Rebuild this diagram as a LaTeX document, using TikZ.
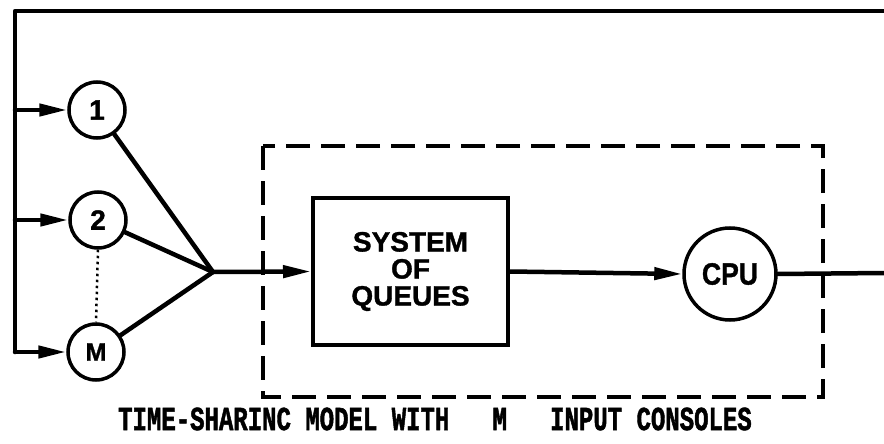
\documentclass[tikz,border=0pt]{standalone}
\usepackage{fontspec}
\usepackage{graphicx}
\setmainfont{Liberation Sans}
\newfontfamily\lblfont{Liberation Sans}[BoldFeatures={FakeBold=1.2}]
\newfontfamily\capfont{Liberation Mono}[BoldFeatures={FakeBold=1.8}]
\usetikzlibrary{arrows.meta}
\tikzset{
  wire/.style={line width=4.5pt, line cap=round, line join=round},
  arr/.style={wire, -{Triangle[length=28pt,width=12pt]}},
  circ/.style={circle, draw, line width=3.5pt, minimum size=56pt, inner sep=0pt,
               font=\lblfont\fontsize{28}{28}\selectfont\bfseries},
  qbox/.style={rectangle, draw, line width=4pt, minimum width=195pt, minimum height=147pt,
               align=center, font=\lblfont\fontsize{28}{27}\selectfont\bfseries},
  dashbox/.style={line width=4pt, dash pattern=on 24pt off 11pt},
  dots/.style={line width=2.5pt, dash pattern=on 2.5pt off 3.5pt},
}
\begin{document}
\begin{tikzpicture}[x=1pt,y=-1pt]
\useasboundingbox (0,0) rectangle (884,444);
% consoles
\node[circ] (c1) at (97,110) {1};
\node[circ] (c2) at (98,220) {2};
\node[circ] (cM) at (96,352) {\scalebox{0.9}{M}};
% feedback line coordinates
\coordinate (tr) at (884,11);
\coordinate (tl) at (15,11);
\coordinate (l1) at (15,110);
\coordinate (l2) at (15,220);
\coordinate (lM) at (15,352);
\coordinate (merge) at (213,272);
\coordinate (re) at (884,273);
% dashed system boundary
\draw[dashbox] (263,146) rectangle (823,397);
% queue box and cpu
\node[qbox] (q) at (410.5,271.5) {SYSTEM\\OF\\QUEUES};
\node[circ, minimum size=92pt] (cpu) at (730,274) {\scalebox{0.95}[1.1]{CPU}};
% loop
\draw[wire] (tr) -- (tl) -- (lM);
\draw[arr] (l1) -- (c1);
\draw[arr] (l2) -- (c2);
\draw[arr] (lM) -- (cM);
\draw[dots] (c2.south) -- (cM.north);
% merge
\draw[wire] (c1) -- (merge);
\draw[wire] (c2) -- (merge);
\draw[wire] (cM) -- (merge);
\draw[arr] (merge) -- (q.west);
\draw[arr] (q.east) -- (cpu.west);
\draw[wire] (cpu.east) -- (re);
% caption
\node[font=\capfont\fontsize{24}{24}\selectfont\bfseries] (cap) at (435,419)
  {\scalebox{1}[1.4]{TIME-SHARINC MODEL WITH\ \ \ M\ \ \ INPUT CONSOLES}};
\end{tikzpicture}
\end{document}
